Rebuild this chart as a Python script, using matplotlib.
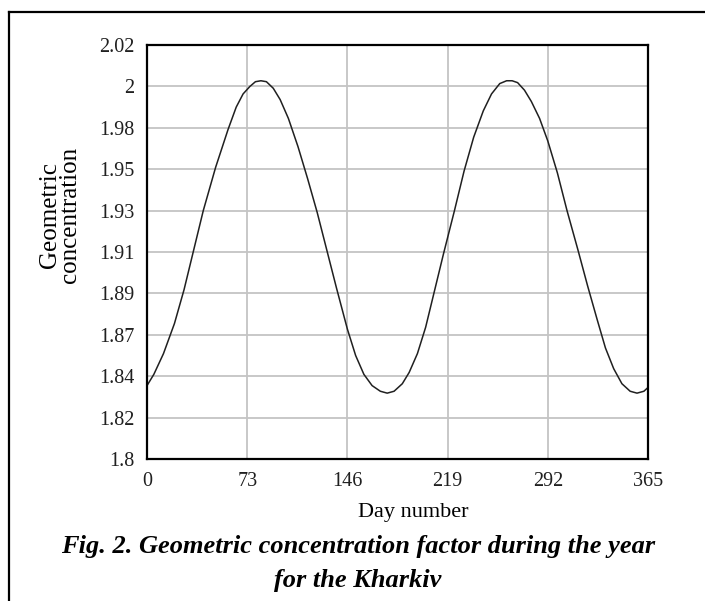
import matplotlib
matplotlib.use("Agg")
import matplotlib.pyplot as plt
from matplotlib.lines import Line2D

# Values
day = [0, 5, 12, 20, 27, 34, 41, 50, 59, 65, 70, 75, 79, 83, 87, 92, 97,
       103, 110, 117, 124, 131, 138, 146, 152, 158, 164, 170, 175, 180,
       186, 191, 197, 203, 209, 216, 224, 231, 238, 245, 251, 257, 262,
       266, 270, 275, 280, 286, 292, 299, 306, 314, 321, 328, 334, 340,
       346, 352, 357, 362, 365]
conc = [1.839, 1.845, 1.856, 1.872, 1.890, 1.911, 1.932, 1.955, 1.975, 1.987,
        1.994, 1.998, 2.0005, 2.001, 2.0005, 1.997, 1.991, 1.981, 1.966,
        1.949, 1.931, 1.911, 1.891, 1.869, 1.855, 1.845, 1.839, 1.836, 1.835,
        1.836, 1.840, 1.846, 1.856, 1.870, 1.888, 1.909, 1.932, 1.953, 1.971,
        1.985, 1.994, 1.9995, 2.001, 2.001, 2.0, 1.996, 1.990, 1.981, 1.969,
        1.952, 1.932, 1.911, 1.892, 1.874, 1.859, 1.848, 1.840, 1.836, 1.835,
        1.836, 1.838]

x_ticks = [0, 73, 146, 219, 292, 365]
y_ticks = [1.8, 1.822, 1.844, 1.866, 1.888, 1.91, 1.932, 1.954, 1.976, 1.998, 2.02]
y_labels = ["1.8", "1.82", "1.84", "1.87", "1.89", "1.91", "1.93", "1.95",
            "1.98", "2", "2.02"]

plt.rcParams['font.family'] = ['Liberation Serif', 'DejaVu Serif']

W, H = 705, 601
fig = plt.figure(figsize=(W / 100, H / 100), dpi=100)
ax = fig.add_axes([147 / W, 1 - 459 / H, (648 - 147) / W, (459 - 45) / H])

ax.plot(day, conc, color='#202020', lw=1.1)

ax.set_xlim(0, 365)
ax.set_ylim(1.8, 2.02)
ax.set_xticks(x_ticks)
ax.set_xticklabels([str(t) for t in x_ticks])
ax.set_yticks(y_ticks)
ax.set_yticklabels(y_labels)
ax.tick_params(length=0, labelsize=14.5, colors='#202020')
ax.tick_params(axis='y', pad=9)
ax.tick_params(axis='x', pad=9)
ax.grid(True, color='#c4c4c4', lw=1.3)
ax.set_axisbelow(True)
for s in ax.spines.values():
    s.set_linewidth(1.6)
    s.set_color('black')

ax.set_xlabel('Day number', fontsize=16)
ax.xaxis.set_label_coords((413 - 147) / (648 - 147), -(512 - 459) / (459 - 45))
ax.xaxis.label.set_va('center')

fig.text(60 / W, 1 - 215 / H, 'Geometric\nconcentration', rotation=90,
         fontsize=18, ha='center', va='center', multialignment='center',
         linespacing=0.9)

# caption
fig.text(358 / W, 1 - 547 / H,
         'Fig. 2. Geometric concentration factor during the year',
         fontsize=19, fontweight='bold', fontstyle='italic',
         ha='center', va='center')
fig.text(358 / W, 1 - 580 / H, 'for the Kharkiv',
         fontsize=19, fontweight='bold', fontstyle='italic',
         ha='center', va='center')

# page frame (top and left)
fig.add_artist(Line2D([9 / W, 1], [1 - 12 / H, 1 - 12 / H], color='black', lw=1.6))
fig.add_artist(Line2D([9 / W, 9 / W], [0, 1 - 12 / H], color='black', lw=1.6))

fig.savefig('out.png', dpi=100)
